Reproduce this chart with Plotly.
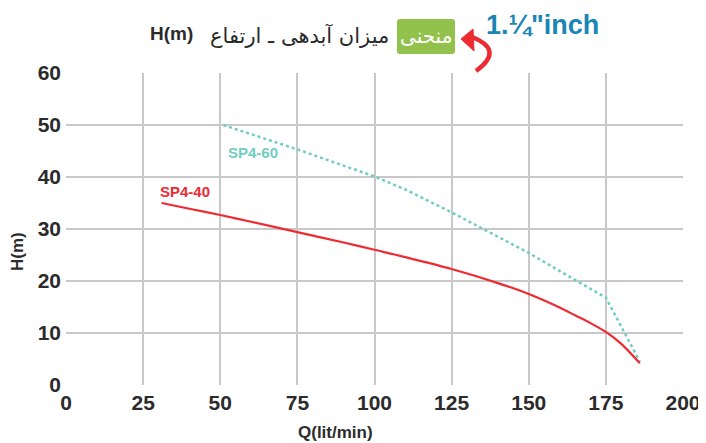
import plotly.graph_objects as go

# ---- data ----
q_sp440 = [31, 40, 50, 60, 75, 90, 100, 110, 125, 140, 150, 160, 165, 170, 175, 180, 186]
h_sp440 = [35.0, 33.9, 32.7, 31.4, 29.4, 27.4, 26.0, 24.6, 22.3, 19.6, 17.5, 14.9, 13.4, 11.9, 10.2, 7.9, 4.2]

q_sp460 = [51, 75, 100, 110, 125, 134, 150, 165, 175, 186]
h_sp460 = [50, 45.3, 40.1, 37.6, 33.2, 30.4, 25.4, 20.2, 16.8, 4.5]

x_ticks = [0, 25, 50, 75, 100, 125, 150, 175, 200]
y_ticks = [0, 10, 20, 30, 40, 50, 60]

RED = "#ee2a32"
TEAL = "#72cdc0"
GRID = "#c8c8c8"
DARK = "#2b2b2b"
SANS = "Liberation Sans, Arial"
ARAB = "DejaVu Sans, Noto Sans"

# the page body has an 8px margin; compensate so the picture lines up
OFF = 8
W, H = 706 - OFF, 443 - OFF

fig = go.Figure()
fig.add_trace(go.Scatter(x=q_sp460, y=h_sp460, mode="lines", name="SP4-60",
                         line=dict(color=TEAL, width=2.5, dash="dot")))
fig.add_trace(go.Scatter(x=q_sp440, y=h_sp440, mode="lines", name="SP4-40",
                         line=dict(color=RED, width=2.2, shape="spline", smoothing=0.8)))

# series labels
fig.add_annotation(x=60.5, y=44.8, xref="x", yref="y", text="SP4-60", showarrow=False,
                   xanchor="center", yanchor="middle",
                   font=dict(family=SANS, size=15, color=TEAL, weight="bold"))
fig.add_annotation(x=38.6, y=37.2, xref="x", yref="y", text="SP4-40", showarrow=False,
                   xanchor="center", yanchor="middle",
                   font=dict(family=SANS, size=15, color=RED, weight="bold"))

# reference-pixel -> paper helpers
L, R, T, B = 66, 683, 73, 385
def px(xp):
    return (xp - L) / (R - L)
def py(yp):
    return (B - yp) / (B - T)

def ann(xp, yp, text, font, angle=0):
    fig.add_annotation(x=px(xp), y=py(yp), xref="paper", yref="paper", text=text,
                       showarrow=False, xanchor="center", yanchor="middle",
                       textangle=angle, font=font)

# axis titles
ann(335, 433, "Q(lit/min)", dict(family=SANS, size=17, color=DARK, weight="bold"))
ann(17, 252, "H(m)", dict(family=SANS, size=17, color=DARK, weight="bold"), angle=-90)

# header
ann(171, 33, "H(m)", dict(family=SANS, size=19, color=DARK, weight="bold"))
ann(299, 35, "میزان آبدهی ـ ارتفاع", dict(family=ARAB, size=21, color=DARK))

# green rounded box
x0, x1, y0, y1, r = 397, 455, 19, 54, 3
box = ("M {a} {b} L {c} {b} Q {x1} {b0} {x1} {d} L {x1} {e} Q {x1} {b1} {c} {f} "
       "L {a} {f} Q {x0} {b1} {x0} {e} L {x0} {d} Q {x0} {b0} {a} {b} Z").format(
    a=px(x0 + r), c=px(x1 - r), b=py(y0), f=py(y1), x0=px(x0), x1=px(x1),
    b0=py(y0), b1=py(y1), d=py(y0 + r), e=py(y1 - r))
fig.add_shape(type="path", xref="paper", yref="paper", path=box,
              fillcolor="#92c24c", line=dict(width=0), layer="below")
ann(426, 36, "منحنی", dict(family=ARAB, size=20, color="white"))

ann(542, 25, "1.¼\"inch", dict(family=SANS, size=27, color="#1a86b6", weight="bold"))

# red curved arrow
path = "M {} {} Q {} {} {} {}".format(px(472), py(37), px(505), py(50), px(476), py(71))
fig.add_shape(type="path", xref="paper", yref="paper", path=path,
              line=dict(color=RED, width=4.5), layer="above")
head = "M {} {} L {} {} L {} {} Z".format(px(461), py(39), px(473), py(29), px(474), py(51))
fig.add_shape(type="path", xref="paper", yref="paper", path=head,
              fillcolor=RED, line=dict(color=RED, width=1), layer="above")

fig.update_layout(
    width=W, height=H,
    margin=dict(l=L - OFF, r=706 - R, t=T - OFF, b=443 - B, autoexpand=False),
    paper_bgcolor="white", plot_bgcolor="white",
    showlegend=False,
    xaxis=dict(range=[0, 200], tickvals=x_ticks, showgrid=True, gridcolor=GRID, gridwidth=2,
               zeroline=False, showline=False, automargin=False,
               tickfont=dict(family=SANS, size=21, color=DARK, weight="bold"),
               ticks="", ticklabelstandoff=3),
    yaxis=dict(range=[0, 60], tickvals=y_ticks, showgrid=True, gridcolor=GRID, gridwidth=2,
               zeroline=False, showline=False, automargin=False,
               tickfont=dict(family=SANS, size=21, color=DARK, weight="bold"),
               ticks="", ticklabelstandoff=4),
)

fig.write_html("out.html")
